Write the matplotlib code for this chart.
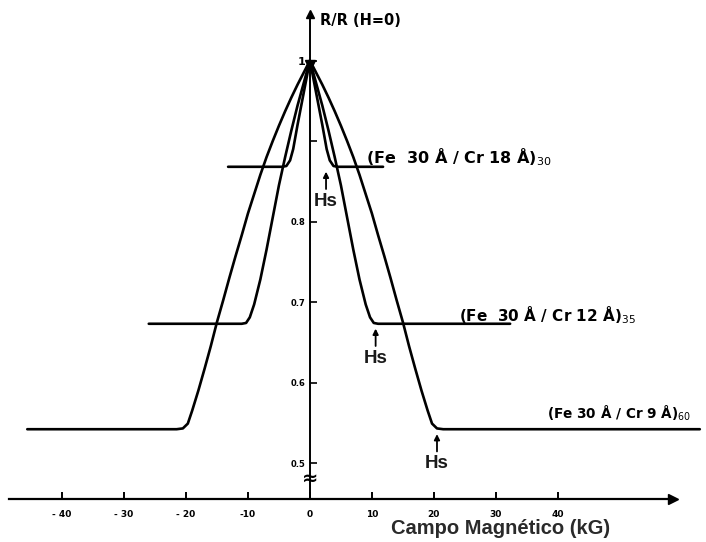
import matplotlib.pyplot as plt
import numpy as np

# half-curves (H >= 0); curves are symmetric in H
h_cr18 = [0, 1.0, 2.0, 2.7, 3.2, 3.8, 4.5]
r_cr18 = [1.0, 0.96, 0.92, 0.89, 0.876, 0.869, 0.868]
ends_cr18 = (-13.2, 11.8)

h_cr12 = [0, 1.0, 2.0, 3.0, 4.0, 5.0, 6.0, 7.0, 8.0, 9.0, 9.7, 10.3, 11.0]
r_cr12 = [1.0, 0.972, 0.944, 0.913, 0.88, 0.845, 0.805, 0.765, 0.728, 0.697, 0.681, 0.674, 0.673]
ends_cr12 = (-26.0, 32.3)

h_cr9 = [0, 1, 2, 3, 4, 5, 6, 7, 8, 9, 10, 11, 12, 13, 14, 15, 16, 17, 18, 19, 19.7, 20.5, 21.5]
r_cr9 = [1.0, 0.985, 0.97, 0.954, 0.937, 0.919, 0.9, 0.88, 0.858, 0.834, 0.81, 0.783,
         0.757, 0.73, 0.702, 0.675, 0.645, 0.617, 0.59, 0.565, 0.549, 0.543, 0.542]
ends_cr9 = (-45.6, 62.9)

labels = [r'(Fe  30 Å / Cr 18 Å)$_{30}$', r'(Fe  30 Å / Cr 12 Å)$_{35}$', r'(Fe 30 Å / Cr 9 Å)$_{60}$']
label_pos = [(9.0, 0.880), (24.0, 0.684), (38.2, 0.562)]
label_size = [11.5, 11, 9.8]

hs_field = [2.6, 10.6, 20.5]
hs_r = [0.868, 0.673, 0.542]

xticks = [-40, -30, -20, -10, 0, 10, 20, 30, 40]
xtick_labels = ['- 40', '- 30', '- 20', '-10', '0', '10', '20', '30', '40']
yticks = [0.5, 0.6, 0.7, 0.8, 0.9, 1.0]
ytick_labels = ['0.5', '0.6', '0.7', '0.8', '', '1']


def full_curve(h, r, ends):
    h = np.asarray(h)
    r = np.asarray(r)
    hh = np.concatenate([[ends[0]], -h[::-1], h[1:], [ends[1]]])
    rr = np.concatenate([[r[-1]], r[::-1], r[1:], [r[-1]]])
    return hh, rr


fig = plt.figure(figsize=(7.06, 5.42), dpi=100)
ax = fig.add_axes([0, 0, 1, 1])
ax.set_xlim(-50.0, 63.9)
ax.set_ylim(0.4019, 1.0752)
ax.patch.set_visible(False)

lw = 1.9
for h, r, e in [(h_cr18, r_cr18, ends_cr18), (h_cr12, r_cr12, ends_cr12), (h_cr9, r_cr9, ends_cr9)]:
    hh, rr = full_curve(h, r, e)
    ax.plot(hh, rr, color='black', lw=lw, solid_joinstyle='round', solid_capstyle='round')

# small black blob where the three curves meet
ax.plot([0], [0.995], marker='v', color='black', ms=7)

# axes as crossing spines
y_axis_pos = 0.4553
for s in ['top', 'right']:
    ax.spines[s].set_visible(False)
ax.spines['left'].set_position(('data', 0))
ax.spines['bottom'].set_position(('data', y_axis_pos))
ax.spines['left'].set_bounds(y_axis_pos, 1.055)
ax.spines['bottom'].set_bounds(-48.5, 58.0)
ax.spines['left'].set_linewidth(1.4)
ax.spines['bottom'].set_linewidth(1.6)
ax.plot([58.5], [y_axis_pos], '>', color='black', ms=7, clip_on=False)
ax.plot([0], [1.058], '^', color='black', ms=6, clip_on=False)

ax.set_xticks(xticks)
ax.set_xticklabels(xtick_labels)
ax.set_yticks(yticks)
ax.set_yticklabels(ytick_labels)
ax.tick_params(axis='x', direction='in', length=5, width=1.4, pad=8, labelsize=6.5)
ax.tick_params(axis='y', direction='in', length=5, width=1.2, pad=3, labelsize=6)
for t in ax.get_xticklabels() + ax.get_yticklabels():
    t.set_fontweight('bold')
ax.yaxis.get_majorticklabels()[-1].set_fontsize(8)

# axis break on the vertical axis
ax.text(0, 0.481, '≈', ha='center', va='center', fontsize=14, fontweight='bold')

ax.text(1.6, 1.050, 'R/R (H=0)', ha='left', va='center', fontsize=10.5, fontweight='bold')
ax.text(30.8, 0.419, 'Campo Magnético (kG)', ha='center', va='center',
        fontsize=14.5, fontweight='bold', family='Liberation Sans', color='#2a2a2a')

for lab, (x, y), fs in zip(labels, label_pos, label_size):
    ax.text(x, y, lab, ha='left', va='center', fontsize=fs, fontweight='bold')

for h, r in zip(hs_field, hs_r):
    ax.annotate('', xy=(h, r), xytext=(0, -16), textcoords='offset points',
                arrowprops=dict(arrowstyle='-|>', color='black', lw=1.3,
                                mutation_scale=8, shrinkA=0, shrinkB=3.5))
    ax.annotate('Hs', xy=(h, r), xytext=(0, -25), textcoords='offset points',
                ha='center', va='center', fontsize=13.5, fontweight='bold',
                family='Liberation Sans', color='#1a1a1a')

plt.savefig('out.png', dpi=100)
